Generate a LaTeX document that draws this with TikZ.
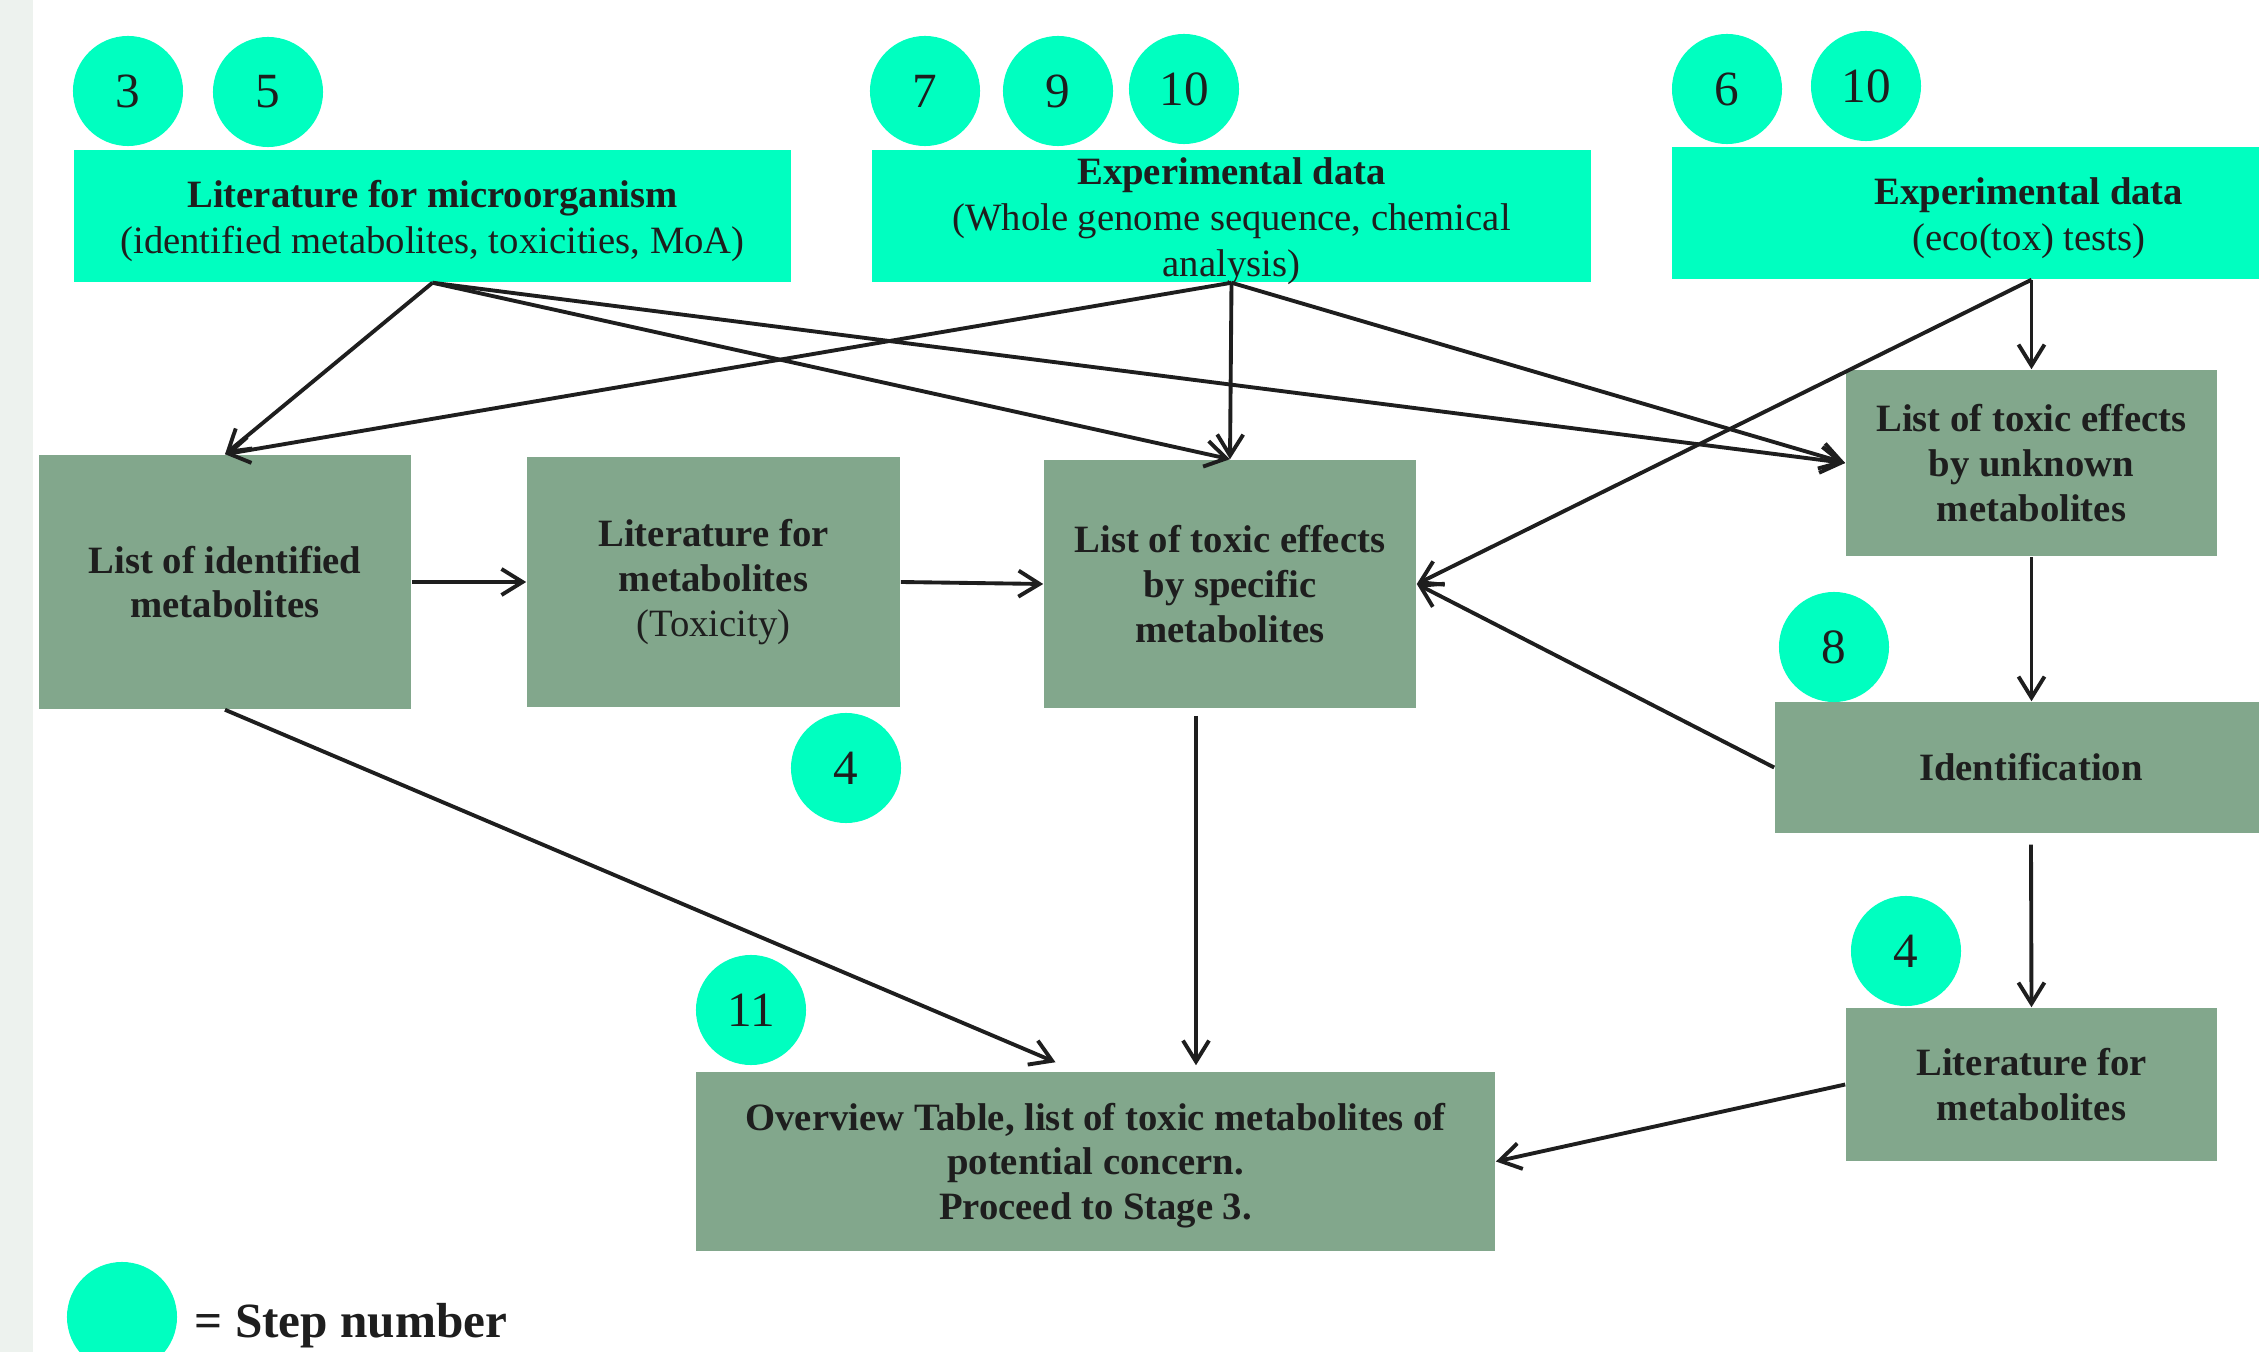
\documentclass[tikz,border=0pt]{standalone}
\usepackage{fontspec}
\setmainfont{Liberation Serif}
\usetikzlibrary{arrows.meta,calc}
\definecolor{aqua}{HTML}{00FFC0}
\definecolor{sage}{HTML}{82A78C}
\definecolor{strip}{HTML}{EDF2EE}
\definecolor{ink}{HTML}{1E1E1E}
\newcommand{\topstrut}{\rule{0pt}{10.5pt}}
\begin{document}
\begin{tikzpicture}[x=0.01cm,y=-0.01cm,
  font=\fontsize{11}{12.7}\selectfont, text=ink,
  topbox/.style={fill=aqua, inner sep=0pt, align=center, minimum height=1.32cm, font=\fontsize{11}{13.1}\selectfont},
  sagebox/.style={fill=sage, inner sep=0pt, align=center, font=\fontsize{11}{12.7}\selectfont\bfseries},
  stepnum/.style={circle, fill=aqua, minimum size=1.1cm, inner sep=0pt, font=\fontsize{14}{16}\selectfont},
  conn/.style={draw=ink, line width=1.1pt, -{Straight Barb[length=2.1mm,width=2.6mm,line width=1.1pt]}}]
\useasboundingbox (0,0) rectangle (2259,1352);
\clip (0,0) rectangle (2259,1352);
\fill[white] (0,0) rectangle (2259,1352);
\fill[strip] (0,0) rectangle (33,1352);

% top boxes
\node[topbox, minimum width=7.17cm] (litmic) at (432.5,216) {\topstrut\textbf{Literature for microorganism}\\(identified metabolites, toxicities, MoA)};
\node[topbox, minimum width=7.19cm, minimum height=1.32cm] (exp1) at (1231.5,216) {};
\node[inner sep=0pt, align=center, font=\fontsize{11}{13.1}\selectfont] (exp1text) at ([yshift=-1.5pt]exp1.center) {\textbf{Experimental data}\\(Whole genome sequence, chemical\\analysis)};
\node[topbox, minimum width=7.14cm] (exp2) at (2029,213) {\topstrut\textbf{Experimental data}\\(eco(tox) tests)};

% sage boxes
\node[sagebox, minimum width=3.72cm, minimum height=2.54cm] (idlist) at (225,582) {List of identified\\metabolites};
\node[sagebox, minimum width=3.73cm, minimum height=2.50cm] (litmet) at (713.5,582) {Literature for\\metabolites\\{\mdseries (Toxicity)}};
\node[sagebox, minimum width=3.72cm, minimum height=2.48cm] (specific) at (1230,584) {List of toxic effects\\by specific\\metabolites};
\node[sagebox, minimum width=3.71cm, minimum height=1.86cm] (unknown) at (2031.5,463) {List of toxic effects\\by unknown\\metabolites};
\node[sagebox, minimum width=5.12cm, minimum height=1.31cm] (ident) at (2031,767.5) {Identification};
\node[sagebox, minimum width=3.71cm, minimum height=1.53cm] (litmet2) at (2031.5,1084.5) {Literature for\\metabolites};
\node[sagebox, minimum width=7.99cm, minimum height=1.79cm] (overview) at (1095.5,1161.5) {\rule{0pt}{10pt}Overview Table, list of toxic metabolites of\\potential concern.\\Proceed to Stage 3.};

% step numbers
\node[stepnum] (s3) at (128,91) {3};
\node[stepnum] (s5) at (268,92) {5};
\node[stepnum] (s7) at (925,91) {7};
\node[stepnum] (s9) at (1058,91) {9};
\node[stepnum] (s10a) at (1184,89) {10};
\node[stepnum] (s6) at (1727,89) {6};
\node[stepnum] (s10b) at (1866,86) {10};
\node[stepnum] (s4a) at (846,768) {4};
\node[stepnum] (s8) at (1834,647) {8};
\node[stepnum] (s4b) at (1906,951) {4};
\node[stepnum] (s11) at (751,1010) {11};

% legend
\node[stepnum] (legend) at (122,1317) {};
\node[anchor=base west, inner sep=0pt, font=\fontsize{14}{16}\selectfont\bfseries] (legtext) at (194,1337) {= Step number};

% connectors
\coordinate (exp2out) at (exp2.south -| unknown.north);
\coordinate (identout) at ($(ident.south)+(0,11)$);
\coordinate (ovin) at ($(overview.north)+(-40,-9)$);
\coordinate (specout) at ($(specific.south)+(-34,7)$);
\coordinate (ovin2) at ($(overview.north)+(100.5,-6)$);

\draw[conn] (litmic.south) -- (idlist.north);
\draw[conn] (litmic.south) -- (specific.north);
\draw[conn] (litmic.south) -- (unknown.west);
\draw[conn] (exp1.south) -- (idlist.north);
\draw[conn] (exp1.south) -- (specific.north);
\draw[conn] (exp1.south) -- (unknown.west);
\draw[conn] (exp2out) -- (unknown.north);
\draw[conn] (exp2out) -- (specific.east);
\draw[conn] (ident.west) -- (specific.east);
\draw[conn] (idlist.east) -- (litmet.west);
\draw[conn] (litmet.east) -- (specific.west);
\draw[conn] (unknown.south) -- (unknown.south |- ident.north);
\draw[conn] (identout) -- (litmet2.north);
\draw[conn] (idlist.south) -- (ovin);
\draw[conn] (specout) -- (specout |- ovin2);
\draw[conn] (litmet2.west) -- (overview.east);
\end{tikzpicture}
\end{document}
